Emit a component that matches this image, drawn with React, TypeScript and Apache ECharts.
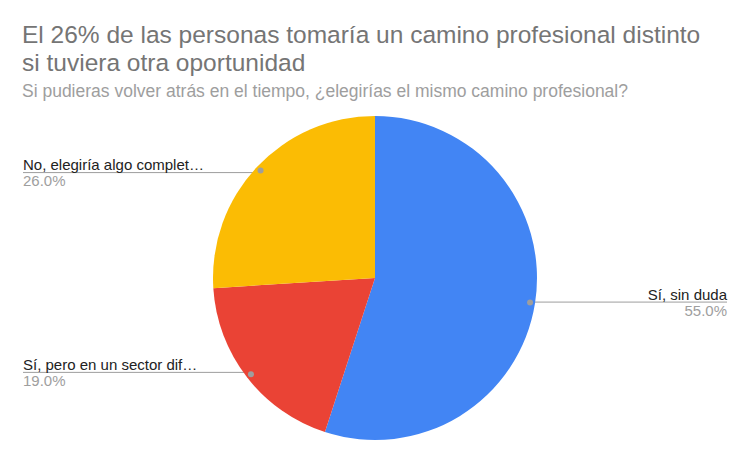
import React, { useEffect, useRef } from "react";
import * as echarts from "echarts";

const titleText = "El 26% de las personas tomaría un camino profesional distinto\nsi tuviera otra oportunidad";
const subtitleText = "Si pudieras volver atrás en el tiempo, ¿elegirías el mismo camino profesional?";

const categories = ["Sí, sin duda", "Sí, pero en un sector dif…", "No, elegiría algo complet…"];
const values = [55, 19, 26];
const colors = ["#4285f4", "#ea4335", "#fbbc04"];

const FONT = "'Liberation Sans', Arial, sans-serif";

const App = () => {
  const chartRef = useRef<HTMLDivElement>(null);

  useEffect(() => {
    const myChart = echarts.init(chartRef.current!, null, { renderer: "svg" });
    const pieData = categories.map((name, i) => ({
      name,
      value: values[i],
      itemStyle: { color: colors[i] },
    }));

    const option = {
      animation: false,
      title: {
        text: titleText,
        subtext: subtitleText,
        left: 22,
        top: 20,
        padding: 0,
        itemGap: 5,
        textStyle: {
          fontFamily: FONT,
          fontSize: 24.5,
          lineHeight: 28,
          fontWeight: "normal",
          color: "#757575",
        },
        subtextStyle: {
          fontFamily: FONT,
          fontSize: 17.5,
          lineHeight: 20,
          color: "#9e9e9e",
        },
      },
      series: [
        {
          type: "pie",
          center: [375, 278],
          radius: 162,
          startAngle: 90,
          clockwise: true,
          silent: true,
          data: pieData,
          label: {
            show: true,
            formatter: (p: any) => `{n|${p.name}}\n{v|${p.percent.toFixed(1)}%}`,
            rich: {
              n: { fontFamily: FONT, fontSize: 15, lineHeight: 16, color: "#222222" },
              v: { fontFamily: FONT, fontSize: 15, lineHeight: 16, color: "#9e9e9e" },
            },
          },
          labelLine: {
            show: true,
            length: 10,
            length2: 10,
            lineStyle: { color: "#9e9e9e", width: 1 },
          },
          labelLayout: (params: any) => {
            const pts = params.labelLinePoints;
            if (!pts) return {};
            const p0 = pts[0];
            const p1 = pts[1];
            const dx = p1[0] - p0[0];
            const dy = p1[1] - p0[1];
            const len = Math.sqrt(dx * dx + dy * dy) || 1;
            const dotX = p0[0] - (8 * dx) / len;
            const dotY = p0[1] - (8 * dy) / len;
            const isRight = dotX > 375;
            const endX = isRight ? 727 : 23;
            return {
              x: endX,
              y: dotY,
              align: isRight ? "right" : "left",
              verticalAlign: "middle",
              labelLinePoints: [
                [dotX, dotY],
                [dotX, dotY],
                [endX, dotY],
              ],
            };
          },
        },
        {
          type: "pie",
          center: [375, 278],
          radius: [150, 158],
          startAngle: 90,
          clockwise: true,
          silent: true,
          z: 5,
          data: categories.map((name, i) => ({ name, value: values[i] })),
          itemStyle: { color: "rgba(0,0,0,0)" },
          label: {
            show: true,
            position: "inside",
            formatter: "{d| }",
            rich: {
              d: {
                width: 6,
                height: 6,
                borderRadius: 3,
                backgroundColor: "#9e9e9e",
                fontSize: 1,
              },
            },
          },
          labelLine: { show: false },
        },
      ],
    };
    myChart.setOption(option);

    return () => {
      myChart.dispose();
    };
  }, []);

  return (
    <div
      ref={chartRef}
      style={{ position: "fixed", left: 0, top: 0, width: 750, height: 464, background: "#ffffff" }}
    ></div>
  );
};

export default App;
